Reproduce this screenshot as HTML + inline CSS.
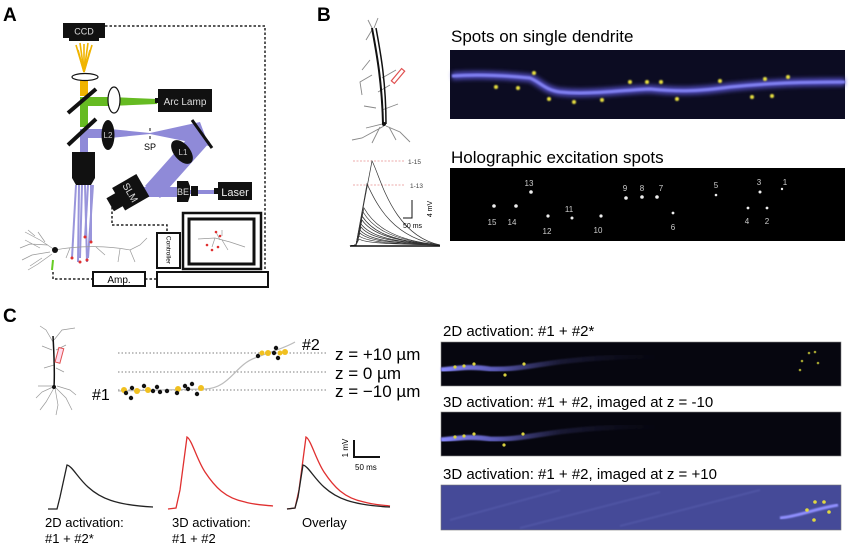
<!DOCTYPE html>
<html><head><meta charset="utf-8"><style>
html,body{margin:0;padding:0;background:#fff;}
svg{display:block;font-family:"Liberation Sans",Arial,sans-serif;}
</style></head><body>
<svg width="850" height="546" viewBox="0 0 850 546" xmlns="http://www.w3.org/2000/svg">
<defs>
<filter id="bl" x="-5%" y="-50%" width="110%" height="200%"><feGaussianBlur stdDeviation="2"/></filter>
<filter id="bl1"><feGaussianBlur stdDeviation="0.8"/></filter>
<linearGradient id="fadeC" x1="0" x2="1"><stop offset="0" stop-color="#8a8aff" stop-opacity="1"/><stop offset="0.25" stop-color="#7070e0" stop-opacity="0.8"/><stop offset="0.55" stop-color="#5050a0" stop-opacity="0.25"/><stop offset="1" stop-color="#303060" stop-opacity="0"/></linearGradient>
</defs>
<rect width="850" height="546" fill="#fff"/>

<!-- ===== Panel A ===== -->
<text x="3" y="21" font-size="19" font-weight="bold">A</text>
<g stroke="#222" stroke-width="1.5" stroke-dasharray="2.5,2" fill="none">
<path d="M105,26 H265 V273"/>
<path d="M112,207 V225 H167 V233"/>
<path d="M53,272 V279 H93"/>
<path d="M145,279 H156"/>
</g>
<rect x="63" y="23" width="42" height="15" fill="#111"/>
<rect x="69" y="38" width="30" height="3" fill="#111"/>
<text x="84" y="34.5" font-size="9" fill="#ddd" text-anchor="middle">CCD</text>
<g stroke="#f0b400" stroke-width="1.6">
<line x1="84" y1="72" x2="76" y2="45"/><line x1="84" y1="72" x2="80" y2="43"/><line x1="84" y1="72" x2="84" y2="44"/><line x1="84" y1="72" x2="88" y2="43"/><line x1="84" y1="72" x2="92" y2="45"/><line x1="84" y1="72" x2="90" y2="50"/><line x1="84" y1="72" x2="78" y2="50"/>
</g>
<rect x="80" y="80" width="8" height="16" fill="#f0b400"/>
<ellipse cx="85" cy="77" rx="13" ry="3.5" fill="#fff" stroke="#111" stroke-width="1.2"/>
<rect x="80" y="97" width="8" height="30" fill="#66bb22"/>
<polygon points="88,97 110,97 157,99 157,104 110,106 88,106" fill="#66bb22"/>
<ellipse cx="114" cy="100" rx="6" ry="13" fill="#fff" stroke="#111" stroke-width="1.2"/>
<rect x="158" y="89" width="54" height="23" fill="#111"/>
<rect x="155" y="98" width="3" height="5" fill="#111"/>
<text x="185" y="105" font-size="10" fill="#ddd" text-anchor="middle">Arc Lamp</text>
<rect x="80" y="129" width="8" height="25" fill="#8f8ad8"/>
<polygon points="88,129 110,129 150,133 150,134 110,138 88,138" fill="#8f8ad8"/>
<polygon points="150,133 200,122 209,146 150,134" fill="#8f8ad8"/>
<polygon points="195,130 210,142 160,198 145,186" fill="#8f8ad8"/>
<polygon points="140,187 180,187 180,197 145,197" fill="#8f8ad8"/>
<rect x="190" y="190" width="28" height="4" fill="#8f8ad8"/>
<line x1="68" y1="113" x2="96" y2="89" stroke="#111" stroke-width="4"/>
<line x1="68" y1="145" x2="96" y2="119" stroke="#111" stroke-width="4"/>
<line x1="192" y1="120" x2="212" y2="148" stroke="#111" stroke-width="3"/>
<ellipse cx="108" cy="135" rx="6.5" ry="15" fill="#111"/>
<text x="108" y="138" font-size="8" fill="#ccc" text-anchor="middle">L2</text>
<text x="150" y="150" font-size="9" text-anchor="middle">SP</text>
<rect x="149" y="128" width="2" height="3" fill="#888"/><rect x="149" y="136" width="2" height="3" fill="#888"/>
<ellipse cx="182" cy="152" rx="8" ry="14" fill="#111" transform="rotate(-40 182 152)"/>
<text x="183" y="155" font-size="8" fill="#ccc" text-anchor="middle">L1</text>
<g transform="rotate(-30 130 195)">
<rect x="118" y="180" width="28" height="26" fill="#111"/>
<rect x="108" y="186" width="11" height="15" fill="#111"/>
<text x="132" y="197" font-size="10" fill="#ddd" text-anchor="middle" transform="rotate(90 132 193)">SLM</text>
</g>
<path d="M177,181 H188 L190,186 V196 L188,202 H177 Z" fill="#111"/>
<rect x="191" y="186" width="7" height="10" fill="#111"/>
<text x="183" y="195" font-size="9" fill="#ddd" text-anchor="middle">BE</text>
<rect x="218" y="182" width="34" height="18" fill="#111"/>
<rect x="214" y="188" width="4" height="6" fill="#111"/>
<text x="235" y="196" font-size="11" fill="#eee" text-anchor="middle">Laser</text>
<rect x="72" y="152" width="23" height="26" fill="#111"/>
<polygon points="72,178 95,178 91,185 76,185" fill="#111"/>
<g stroke="#8f8ad8" stroke-width="2" opacity="0.9">
<line x1="76" y1="185" x2="72" y2="258"/><line x1="79" y1="185" x2="78" y2="262"/><line x1="82" y1="185" x2="80" y2="258"/><line x1="85" y1="185" x2="87" y2="262"/><line x1="88" y1="185" x2="85" y2="238"/><line x1="91" y1="185" x2="91" y2="243"/><line x1="93" y1="185" x2="88" y2="258"/>
</g>
<g stroke="#999" stroke-width="0.7" fill="none">
<path d="M55,250 L40,240 L25,232 M48,245 L30,244 L20,248 M50,252 L32,255 L22,260 M52,254 L38,264 L28,270 M45,242 L38,232 M40,248 L25,240 M55,250 C80,245 110,246 130,250 L140,245 L147,238 M120,249 L118,262 M130,250 L135,262 M96,247 L105,255 M70,248 L66,258 M35,236 L28,230 M42,258 L30,266"/>
</g>
<circle cx="55" cy="250" r="3" fill="#111"/>
<line x1="53" y1="260" x2="52" y2="270" stroke="#66cc22" stroke-width="2"/>
<g fill="#e03030"><circle cx="72" cy="258" r="1.5"/><circle cx="80" cy="262" r="1.5"/><circle cx="87" cy="260" r="1.5"/><circle cx="85" cy="237" r="1.5"/><circle cx="91" cy="242" r="1.5"/></g>
<rect x="157" y="233" width="23" height="35" fill="none" stroke="#111" stroke-width="2"/>
<text x="168" y="250" font-size="6.5" text-anchor="middle" transform="rotate(90 168 250)" dominant-baseline="middle">Controller</text>
<rect x="183" y="213" width="78" height="56" fill="none" stroke="#111" stroke-width="2.5"/>
<rect x="189" y="219" width="65" height="45" fill="none" stroke="#111" stroke-width="3"/>
<g stroke="#999" stroke-width="0.7" fill="none"><path d="M198,239 L215,238 L230,242 L245,247 M215,238 L212,247 M222,240 L228,250 M216,232 L220,240 M222,230 L222,236"/></g>
<g fill="#e03030"><circle cx="216" cy="232" r="1.3"/><circle cx="220" cy="236" r="1.3"/><circle cx="207" cy="245" r="1.3"/><circle cx="212" cy="250" r="1.3"/><circle cx="218" cy="247" r="1.3"/></g>
<rect x="93" y="272" width="52" height="14" fill="#fff" stroke="#111" stroke-width="2"/>
<text x="119" y="283" font-size="10" text-anchor="middle">Amp.</text>
<rect x="157" y="272" width="111" height="15" fill="#fff" stroke="#111" stroke-width="2"/>

<!-- ===== Panel B ===== -->
<text x="317" y="21" font-size="19" font-weight="bold">B</text>
<g stroke="#888" stroke-width="0.9" fill="none">
<path d="M372,28 L368,20 M374,28 L378,18 M372,30 L366,40 M370,60 L362,70 M372,75 L360,82 L362,95 M378,92 L390,85 M382,78 L396,70 M376,108 L364,106 M382,110 L398,104 M382,124 L366,128 M384,126 L362,138 L352,140 M386,126 L400,132 L410,142 M380,127 L372,143 M389,127 L396,140"/>
</g>
<path d="M372,28 C376,50 382,80 383,124" stroke="#111" stroke-width="2" fill="none"/>
<path d="M376,28 C380,50 386,80 386,124" stroke="#111" stroke-width="1.5" fill="none"/>
<circle cx="384" cy="124" r="2" fill="#111"/>
<rect x="396" y="68" width="4" height="16" fill="#fff" stroke="#e05050" stroke-width="1.2" transform="rotate(40 398 76)"/>
<line x1="353" y1="161" x2="405" y2="161" stroke="#e89090" stroke-width="0.8" stroke-dasharray="2,1.5"/>
<line x1="353" y1="185" x2="405" y2="185" stroke="#e89090" stroke-width="0.8" stroke-dasharray="2,1.5"/>
<text x="408" y="164" font-size="6.5" fill="#444">1-15</text>
<text x="410" y="188" font-size="6.5" fill="#444">1-13</text>
<g fill="none" stroke="#333" stroke-width="0.7">
<path d="M350,246 L356,245 L372,161 C380,175 392,235 440,245"/>
<path d="M350,246 L356,245 L367,184 C375,200 390,238 440,245"/>
<path d="M350,246 L356,245 L364,208 C372,222 388,240 440,245"/>
<path d="M350,246 L356,245 L363,212 C371,225 386,240 440,245"/>
<path d="M350,246 L356,245 L362,216 C370,228 384,241 440,245"/>
<path d="M350,246 L356,245 L362,220 C369,230 384,241 440,245"/>
<path d="M350,246 L356,245 L361,224 C368,233 383,242 440,245"/>
<path d="M350,246 L356,245 L361,227 C367,235 382,242 440,245"/>
<path d="M350,246 L356,245 L360,230 C366,237 380,243 440,245"/>
<path d="M350,246 L356,245 L360,233 C366,239 380,243 440,245"/>
<path d="M350,246 L356,245 L359,236 C365,240 378,244 440,245"/>
<path d="M350,246 L356,245 L359,239 C364,242 376,244 440,245"/>
</g>
<line x1="350" y1="246" x2="440" y2="246" stroke="#111" stroke-width="1.5"/>
<path d="M412,200 V218 H403" stroke="#111" stroke-width="1" fill="none"/>
<text x="403" y="228" font-size="7">50 ms</text>
<text x="432" y="209" font-size="7" text-anchor="middle" transform="rotate(-90 432 209)">4 mV</text>
<text x="451" y="42" font-size="17">Spots on single dendrite</text>
<text x="451" y="163" font-size="17">Holographic excitation spots</text>
<rect x="450" y="50" width="395" height="69" fill="#0c0c22"/>
<path d="M452,76 C480,74 510,76 530,78 C540,82 545,90 560,92 C590,95 620,90 650,89 C680,92 700,91 730,87 C760,84 790,82 845,82" stroke="#5a55d0" stroke-width="8" fill="none" filter="url(#bl)" opacity="0.85"/>
<path d="M452,76 C480,74 510,76 530,78 C540,82 545,90 560,92 C590,95 620,90 650,89 C680,92 700,91 730,87 C760,84 790,82 845,82" stroke="#8080f0" stroke-width="3" fill="none" filter="url(#bl1)"/>
<g fill="#e8e040" filter="url(#bl1)">
<circle cx="496" cy="87" r="2"/><circle cx="518" cy="88" r="2"/><circle cx="534" cy="73" r="2"/><circle cx="549" cy="99" r="2"/><circle cx="574" cy="102" r="2"/><circle cx="602" cy="100" r="2"/><circle cx="630" cy="82" r="2"/><circle cx="647" cy="82" r="2"/><circle cx="661" cy="82" r="2"/><circle cx="677" cy="99" r="2"/><circle cx="720" cy="81" r="2"/><circle cx="752" cy="97" r="2"/><circle cx="765" cy="79" r="2"/><circle cx="772" cy="96" r="2"/><circle cx="788" cy="77" r="2"/>
</g>
<rect x="450" y="168" width="395" height="73" fill="#000"/>
<g fill="#eee">
<circle cx="531" cy="192" r="1.8"/><circle cx="494" cy="206" r="1.8"/><circle cx="516" cy="206" r="1.8"/><circle cx="548" cy="216" r="1.6"/><circle cx="572" cy="218" r="1.5"/><circle cx="601" cy="216" r="1.6"/><circle cx="626" cy="198" r="1.8"/><circle cx="642" cy="197" r="1.8"/><circle cx="657" cy="197" r="1.8"/><circle cx="673" cy="213" r="1.4"/><circle cx="716" cy="195" r="1.3"/><circle cx="760" cy="192" r="1.5"/><circle cx="782" cy="189" r="1.2"/><circle cx="748" cy="208" r="1.4"/><circle cx="767" cy="208" r="1.4"/>
</g>
<g fill="#ccc" font-size="8" text-anchor="middle">
<text x="529" y="186">13</text><text x="492" y="225">15</text><text x="512" y="225">14</text><text x="547" y="234">12</text><text x="569" y="212">11</text><text x="598" y="233">10</text><text x="625" y="191">9</text><text x="642" y="191">8</text><text x="661" y="191">7</text><text x="673" y="230">6</text><text x="716" y="188">5</text><text x="759" y="185">3</text><text x="785" y="185">1</text><text x="747" y="224">4</text><text x="767" y="224">2</text>
</g>

<!-- ===== Panel C ===== -->
<text x="3" y="322" font-size="19" font-weight="bold">C</text>
<g stroke="#999" stroke-width="0.7" fill="none">
<path d="M53,342 L46,330 L40,326 M54,340 L62,330 L75,328 M52,350 L42,346 M56,350 L66,345 M54,365 L44,368 M56,368 L64,372 M53,387 L42,392 L36,398 M54,388 L46,402 L40,410 M55,388 L58,405 L56,415 M56,388 L66,398 L72,410 M57,386 L70,390 L76,395 M52,386 L38,386"/>
</g>
<path d="M53,336 C54,355 55,370 54,387" stroke="#111" stroke-width="1.5" fill="none"/>
<circle cx="54" cy="387" r="2" fill="#111"/>
<rect x="57" y="348" width="5" height="15" fill="#fde" stroke="#e05050" stroke-width="1" transform="rotate(15 60 355)"/>
<g stroke="#999" stroke-width="1.2" stroke-dasharray="1.5,2">
<line x1="118" y1="353" x2="327" y2="353"/><line x1="118" y1="372" x2="327" y2="372"/><line x1="118" y1="390" x2="327" y2="390"/>
</g>
<path d="M118,391 L205,389 C230,388 235,365 255,358 C270,352 285,348 295,342" stroke="#bbb" stroke-width="1.2" fill="none"/>
<g fill="#f0c020">
<circle cx="124" cy="390" r="3"/><circle cx="137" cy="391" r="3"/><circle cx="148" cy="390" r="3"/><circle cx="178" cy="389" r="3"/><circle cx="201" cy="388" r="3"/><circle cx="268" cy="353" r="3"/><circle cx="285" cy="352" r="3"/><circle cx="280" cy="353" r="2.5"/><circle cx="262" cy="353" r="2.5"/>
</g>
<g fill="#111">
<circle cx="126" cy="393" r="2.2"/><circle cx="132" cy="388" r="2.2"/><circle cx="131" cy="398" r="2.2"/><circle cx="144" cy="386" r="2.2"/><circle cx="153" cy="391" r="2.2"/><circle cx="157" cy="387" r="2.2"/><circle cx="160" cy="392" r="2.2"/><circle cx="167" cy="391" r="2.2"/><circle cx="177" cy="393" r="2.2"/><circle cx="185" cy="386" r="2.2"/><circle cx="188" cy="389" r="2.2"/><circle cx="192" cy="384" r="2.2"/><circle cx="197" cy="394" r="2.2"/><circle cx="258" cy="356" r="2.2"/><circle cx="276" cy="348" r="2.2"/><circle cx="274" cy="353" r="2.2"/><circle cx="278" cy="358" r="2.2"/>
</g>
<text x="92" y="400" font-size="16">#1</text>
<text x="302" y="350" font-size="16">#2</text>
<text x="335" y="360" font-size="17">z = +10 µm</text>
<text x="335" y="379" font-size="17">z =  0 µm</text>
<text x="335" y="397" font-size="17">z = −10 µm</text>
<path d="M48,509 L57,509 L60,497 L67,465 C72,466 78,478 88,487 C100,498 115,505 153,507" stroke="#222" stroke-width="1.3" fill="none"/>
<path d="M168,509 L176,508 L180,490 L187,437 C192,440 197,460 205,472 C215,487 225,498 245,502 C255,505 265,505 273,506" stroke="#e03030" stroke-width="1.3" fill="none"/>
<path d="M287,509 L295,508 L299,490 L306,437 C311,440 316,460 324,472 C334,487 344,498 364,502 C374,505 384,505 390,506" stroke="#e03030" stroke-width="1.3" fill="none"/>
<path d="M287,509 L295,508 L298,497 L303,465 C308,466 314,478 324,487 C336,498 351,505 390,507" stroke="#222" stroke-width="1.3" fill="none"/>
<path d="M354,440 V457 H380" stroke="#111" stroke-width="2" fill="none"/>
<text x="355" y="470" font-size="8">50 ms</text>
<text x="348" y="448" font-size="8" text-anchor="middle" transform="rotate(-90 348 448)">1 mV</text>
<g font-size="13">
<text x="45" y="527">2D activation:</text><text x="45" y="543">#1 + #2*</text>
<text x="172" y="527">3D activation:</text><text x="172" y="543">#1 + #2</text>
<text x="302" y="527">Overlay</text>
</g>
<g font-size="15">
<text x="443" y="336">2D activation: #1 + #2*</text>
<text x="443" y="407">3D activation: #1 + #2, imaged at z = -10</text>
<text x="443" y="479">3D activation: #1 + #2, imaged at z = +10</text>
</g>
<rect x="441" y="342" width="400" height="44" fill="#06060f" stroke="#888" stroke-width="0.6"/>
<path d="M441,370 C460,368 470,366 490,369 C510,370 530,366 545,364 C570,360 600,358 620,357 C640,356 650,357 660,358" stroke="url(#fadeC)" stroke-width="5" fill="none" filter="url(#bl1)"/>
<g fill="#d8d040"><circle cx="455" cy="367" r="1.6"/><circle cx="464" cy="366" r="1.6"/><circle cx="474" cy="364" r="1.6"/><circle cx="524" cy="364" r="1.6"/><circle cx="505" cy="375" r="1.6"/></g>
<g fill="#a0a030"><circle cx="802" cy="361" r="1.3"/><circle cx="809" cy="353" r="1.3"/><circle cx="815" cy="352" r="1.3"/><circle cx="818" cy="363" r="1.3"/><circle cx="800" cy="370" r="1.3"/></g>
<rect x="441" y="412" width="400" height="44" fill="#06060f" stroke="#888" stroke-width="0.6"/>
<path d="M441,440 C460,438 470,436 490,439 C510,440 530,436 545,434 C570,430 600,428 620,427 C640,426 650,427 660,428" stroke="url(#fadeC)" stroke-width="5" fill="none" filter="url(#bl1)"/>
<g fill="#d8d040"><circle cx="455" cy="437" r="1.6"/><circle cx="464" cy="436" r="1.6"/><circle cx="474" cy="434" r="1.6"/><circle cx="523" cy="434" r="1.6"/><circle cx="504" cy="445" r="1.6"/></g>
<rect x="441" y="485" width="400" height="45" fill="#454a98" stroke="#777" stroke-width="0.6"/>
<g stroke="#5a60b0" stroke-width="2" opacity="0.5" filter="url(#bl1)"><line x1="450" y1="520" x2="560" y2="490"/><line x1="520" y1="528" x2="660" y2="492"/><line x1="620" y1="526" x2="760" y2="490"/></g>
<path d="M780,518 C800,516 810,510 838,505" stroke="#9090ff" stroke-width="3" fill="none" filter="url(#bl1)"/>
<g fill="#e0d840"><circle cx="807" cy="510" r="1.8"/><circle cx="815" cy="502" r="1.8"/><circle cx="824" cy="502" r="1.8"/><circle cx="829" cy="512" r="1.8"/><circle cx="814" cy="520" r="1.8"/></g>
</svg>
</body></html>
